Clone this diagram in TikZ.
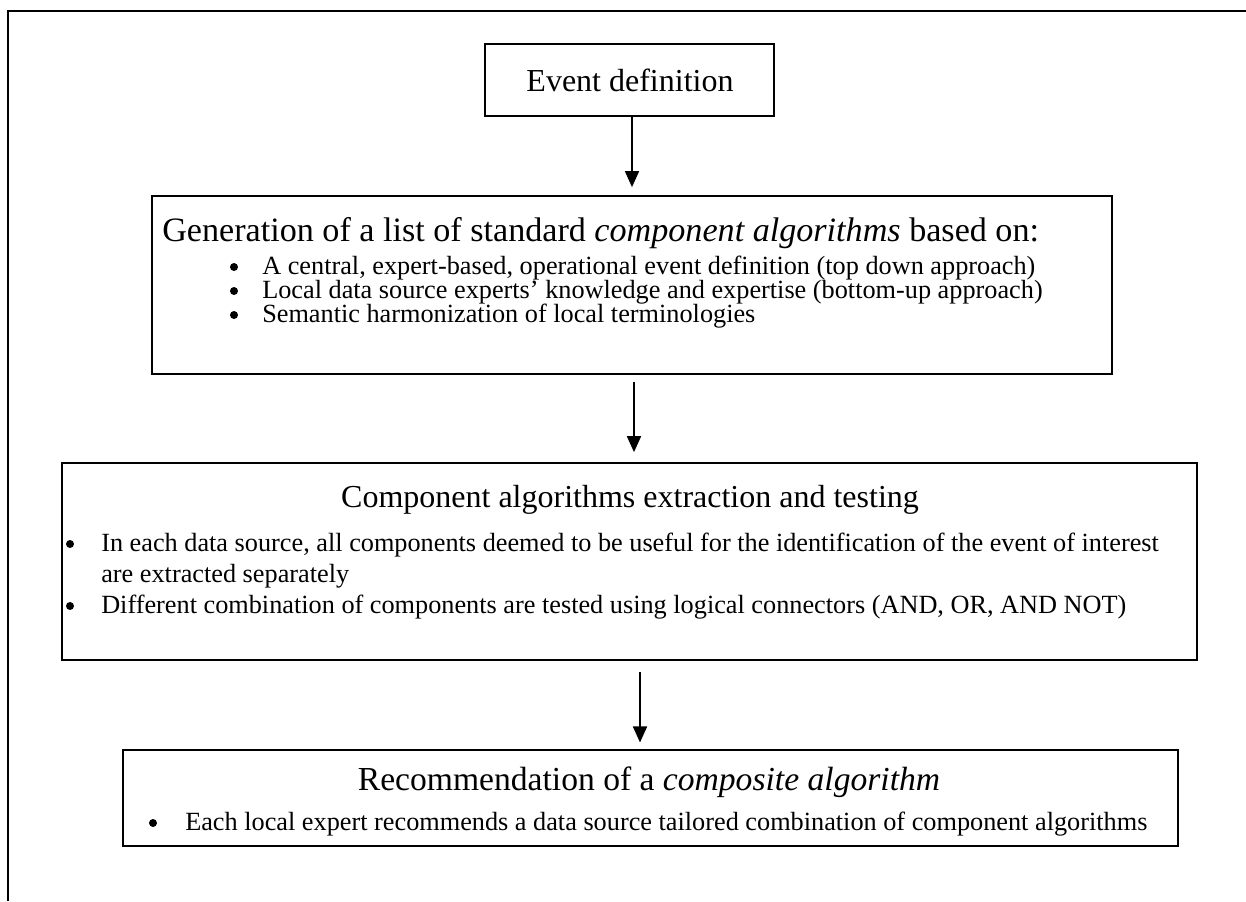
\documentclass[tikz,border=0pt]{standalone}
\usepackage{fontspec}
\setmainfont{Liberation Serif}
\usetikzlibrary{arrows.meta,fit}
\begin{document}
\begin{tikzpicture}[x=0.75pt,y=-0.75pt,
  box/.style={draw,line width=1.3pt,inner sep=0pt},
  ttl/.style={font=\fontsize{24}{28}\selectfont,inner sep=0pt},
  itm/.style={font=\fontsize{19.7}{23}\selectfont,inner sep=0pt,anchor=base west},
  bul/.style={circle,fill,inner sep=0pt,minimum size=6pt},
  arr/.style={line width=1.3pt,-{Triangle[width=10.5pt,length=12pt]}}]
\useasboundingbox (0,0) rectangle (1246,901);
\coordinate (fa) at (8,901);
\coordinate (fb) at (8,11);
\coordinate (fc) at (1246,11);
\draw[line width=1.3pt] (fa) -- (fb) -- (fc);
% boxes
\coordinate (b1a) at (485,44);  \coordinate (b1b) at (774,116);
\coordinate (b2a) at (152,196); \coordinate (b2b) at (1112,374);
\coordinate (b3a) at (62,463);  \coordinate (b3b) at (1197,660);
\coordinate (b4a) at (123,750); \coordinate (b4b) at (1178,846);
\node[box,fit=(b1a)(b1b)] (b1) {};
\node[box,fit=(b2a)(b2b)] (b2) {};
\node[box,fit=(b3a)(b3b)] (b3) {};
\node[box,fit=(b4a)(b4b)] (b4) {};
% box 1
\node[ttl] (t1) at (630,80) {Event definition};
% box 2
\node[ttl,anchor=base west,font=\fontsize{25.6}{30}\selectfont] (t2) at (162,241) {Generation of a list of standard \textit{component algorithms} based on:};
\node[bul] (p21) at (234,267) {};
\node[itm] (i21) at (262,274) {A central, expert-based, operational event definition (top down approach)};
\node[bul] (p22) at (234,291) {};
\node[itm] (i22) at (262,298) {Local data source experts’ knowledge and expertise (bottom-up approach)};
\node[bul] (p23) at (234,315) {};
\node[itm] (i23) at (262,322) {Semantic harmonization of local terminologies};
% box 3
\node[ttl] (t3) at (630,500) {Component algorithms extraction and testing};
\node[bul] (p31) at (70,544) {};
\node[itm] (i31) at (101,551) {In each data source, all components deemed to be useful for the identification of the event of interest};
\node[itm] (i32) at (101,582) {are extracted separately};
\node[bul] (p32) at (70,606) {};
\node[itm] (i33) at (101,613) {Different combination of components are tested using logical connectors (AND, OR, AND NOT)};
% box 4
\node[ttl,font=\fontsize{25.2}{30}\selectfont] (t4) at (649,782) {Recommendation of a \textit{composite algorithm}};
\node[bul] (p41) at (153,823) {};
\node[itm] (i41) at (185,830) {Each local expert recommends a data source tailored combination of component algorithms};
% arrows
\coordinate (a1) at (632,116);
\coordinate (a2) at (634,382);
\coordinate (a3) at (640,672);
\draw[arr,shorten >=6pt] (a1) -- (a1 |- b2.north);
\draw[arr,shorten >=7.5pt] (a2) -- (a2 |- b3.north);
\draw[arr,shorten >=5pt] (a3) -- (a3 |- b4.north);
\end{tikzpicture}
\end{document}
